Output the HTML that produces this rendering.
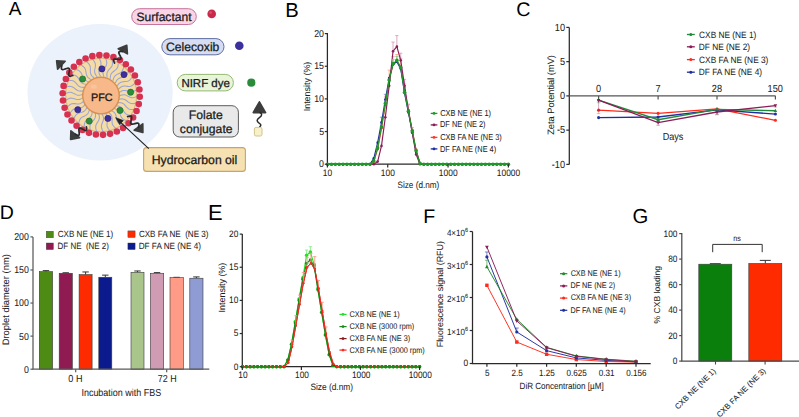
<!DOCTYPE html>
<html><head><meta charset="utf-8"><style>
html,body{margin:0;padding:0;background:#fff;}
svg{display:block;}
text{font-family:"Liberation Sans", sans-serif;text-rendering:geometricPrecision;}
.t{stroke:#1c1c1c;stroke-width:0.05px;}
</style></head><body>
<svg width="799" height="417" viewBox="0 0 799 417" font-family="Liberation Sans, sans-serif">
<rect width="799" height="417" fill="#fff"/>
<ellipse cx="100.1" cy="92.2" rx="72.6" ry="68.3" fill="#ebf2fb"/>
<ellipse cx="101.2" cy="95.0" rx="36.2" ry="37.4" fill="#f5dca6"/>
<ellipse cx="101.2" cy="95.0" rx="35.6" ry="36.8" fill="none" stroke="#d8bd88" stroke-width="1.3"/>
<path d="M106.01,59.34 L106.39,60.62 L106.66,61.90 L106.74,63.15 L106.58,64.35 L106.17,65.51 L105.58,66.64 L104.87,67.76 L104.16,68.89 L103.56,70.05 L103.16,71.23 L103.00,72.43 L103.08,73.66 L103.35,74.91 L103.74,76.18 M112.31,60.85 L112.46,62.19 L112.50,63.49 L112.35,64.73 L111.98,65.89 L111.37,66.95 L110.58,67.95 L109.69,68.92 L108.79,69.89 L107.99,70.92 L107.38,72.00 L107.01,73.15 L106.87,74.38 L106.92,75.65 L107.06,76.98 M118.24,63.53 L118.14,64.87 L117.95,66.16 L117.58,67.35 L117.01,68.41 L116.22,69.34 L115.27,70.18 L114.22,70.96 L113.16,71.75 L112.19,72.61 L111.40,73.56 L110.82,74.62 L110.46,75.79 L110.28,77.06 L110.19,78.39 M123.59,67.28 L123.25,68.57 L122.83,69.81 L122.26,70.91 L121.50,71.85 L120.56,72.61 L119.47,73.25 L118.30,73.82 L117.12,74.40 L116.01,75.06 L115.06,75.85 L114.31,76.78 L113.75,77.87 L113.34,79.08 L113.01,80.37 M128.17,71.97 L127.61,73.18 L126.97,74.31 L126.21,75.29 L125.30,76.07 L124.24,76.64 L123.06,77.07 L121.80,77.41 L120.54,77.75 L119.33,78.19 L118.26,78.78 L117.35,79.56 L116.60,80.53 L115.99,81.64 L115.43,82.84 M131.84,77.44 L131.07,78.53 L130.24,79.52 L129.32,80.34 L128.28,80.93 L127.14,81.30 L125.90,81.49 L124.60,81.59 L123.30,81.69 L122.04,81.90 L120.87,82.28 L119.84,82.87 L118.93,83.68 L118.13,84.65 L117.37,85.73 M134.46,83.52 L133.51,84.44 L132.52,85.26 L131.46,85.89 L130.34,86.28 L129.15,86.42 L127.90,86.38 L126.61,86.23 L125.30,86.08 L124.03,86.05 L122.82,86.20 L121.69,86.59 L120.66,87.21 L119.69,88.02 L118.75,88.94 M135.95,89.98 L134.85,90.71 L133.73,91.33 L132.58,91.75 L131.41,91.92 L130.21,91.84 L128.99,91.56 L127.74,91.17 L126.49,90.78 L125.24,90.50 L124.02,90.43 L122.85,90.60 L121.72,91.01 L120.63,91.63 L119.54,92.35 M136.26,96.62 L135.04,97.13 L133.83,97.52 L132.63,97.72 L131.45,97.67 L130.28,97.36 L129.13,96.85 L127.98,96.24 L126.81,95.62 L125.64,95.11 L124.45,94.81 L123.27,94.75 L122.09,94.95 L120.90,95.35 L119.70,95.85 M135.37,103.20 L134.09,103.47 L132.82,103.63 L131.61,103.60 L130.45,103.32 L129.36,102.80 L128.32,102.09 L127.30,101.26 L126.27,100.44 L125.20,99.72 L124.09,99.19 L122.94,98.92 L121.74,98.89 L120.50,99.05 L119.23,99.33 M133.32,109.50 L132.01,109.53 L130.74,109.45 L129.55,109.18 L128.46,108.69 L127.49,107.98 L126.59,107.08 L125.73,106.08 L124.87,105.07 L123.95,104.16 L122.95,103.44 L121.87,102.95 L120.70,102.69 L119.45,102.62 L118.15,102.65 M130.17,115.31 L128.88,115.09 L127.65,114.77 L126.53,114.29 L125.55,113.60 L124.71,112.71 L124.00,111.66 L123.33,110.51 L122.66,109.36 L121.92,108.29 L121.07,107.39 L120.09,106.71 L118.99,106.24 L117.77,105.93 L116.49,105.72 M126.04,120.43 L124.81,119.96 L123.66,119.42 L122.64,118.73 L121.80,117.87 L121.14,116.84 L120.62,115.68 L120.18,114.42 L119.72,113.16 L119.19,111.97 L118.51,110.93 L117.67,110.07 L116.67,109.40 L115.53,108.87 L114.31,108.42 M121.07,124.68 L119.94,123.99 L118.90,123.24 L118.02,122.37 L117.35,121.37 L116.89,120.23 L116.59,118.98 L116.38,117.67 L116.16,116.34 L115.84,115.07 L115.36,113.92 L114.69,112.92 L113.83,112.07 L112.80,111.34 L111.68,110.66 M115.41,127.92 L114.43,127.03 L113.54,126.09 L112.84,125.07 L112.36,123.96 L112.10,122.76 L112.03,121.48 L112.06,120.14 L112.08,118.80 L112.00,117.49 L111.73,116.27 L111.25,115.16 L110.56,114.16 L109.68,113.25 L108.70,112.37 M109.28,130.03 L108.47,128.98 L107.76,127.89 L107.25,126.76 L106.98,125.57 L106.95,124.34 L107.10,123.07 L107.37,121.76 L107.63,120.44 L107.78,119.14 L107.75,117.89 L107.47,116.71 L106.96,115.60 L106.27,114.53 L105.46,113.49 M102.86,130.96 L102.26,129.77 L101.76,128.57 L101.46,127.36 L101.40,126.14 L101.59,124.93 L101.98,123.70 L102.47,122.47 L102.96,121.22 L103.35,119.97 L103.53,118.74 L103.48,117.52 L103.18,116.33 L102.68,115.16 L102.08,113.98 M96.39,130.66 L96.01,129.38 L95.74,128.10 L95.66,126.85 L95.82,125.65 L96.23,124.49 L96.82,123.36 L97.53,122.24 L98.24,121.11 L98.84,119.95 L99.24,118.77 L99.40,117.57 L99.32,116.34 L99.05,115.09 L98.66,113.82 M90.09,129.15 L89.94,127.81 L89.90,126.51 L90.05,125.27 L90.42,124.11 L91.03,123.05 L91.82,122.05 L92.71,121.08 L93.61,120.11 L94.41,119.08 L95.02,118.00 L95.39,116.85 L95.53,115.62 L95.48,114.35 L95.34,113.02 M84.16,126.47 L84.26,125.13 L84.45,123.84 L84.82,122.65 L85.39,121.59 L86.18,120.66 L87.13,119.82 L88.18,119.04 L89.24,118.25 L90.21,117.39 L91.00,116.44 L91.58,115.38 L91.94,114.21 L92.12,112.94 L92.21,111.61 M78.81,122.72 L79.15,121.43 L79.57,120.19 L80.14,119.09 L80.90,118.15 L81.84,117.39 L82.93,116.75 L84.10,116.18 L85.28,115.60 L86.39,114.94 L87.34,114.15 L88.09,113.22 L88.65,112.13 L89.06,110.92 L89.39,109.63 M74.23,118.03 L74.79,116.82 L75.43,115.69 L76.19,114.71 L77.10,113.93 L78.16,113.36 L79.34,112.93 L80.60,112.59 L81.86,112.25 L83.07,111.81 L84.14,111.22 L85.05,110.44 L85.80,109.47 L86.41,108.36 L86.97,107.16 M70.56,112.56 L71.33,111.47 L72.16,110.48 L73.08,109.66 L74.12,109.07 L75.26,108.70 L76.50,108.51 L77.80,108.41 L79.10,108.31 L80.36,108.10 L81.53,107.72 L82.56,107.13 L83.47,106.32 L84.27,105.35 L85.03,104.27 M67.94,106.48 L68.89,105.56 L69.88,104.74 L70.94,104.11 L72.06,103.72 L73.25,103.58 L74.50,103.62 L75.79,103.77 L77.10,103.92 L78.37,103.95 L79.58,103.80 L80.71,103.41 L81.74,102.79 L82.71,101.98 L83.65,101.06 M66.45,100.02 L67.55,99.29 L68.67,98.67 L69.82,98.25 L70.99,98.08 L72.19,98.16 L73.41,98.44 L74.66,98.83 L75.91,99.22 L77.16,99.50 L78.38,99.57 L79.55,99.40 L80.68,98.99 L81.77,98.37 L82.86,97.65 M66.14,93.38 L67.36,92.87 L68.57,92.48 L69.77,92.28 L70.95,92.33 L72.12,92.64 L73.27,93.15 L74.42,93.76 L75.59,94.38 L76.76,94.89 L77.95,95.19 L79.13,95.25 L80.31,95.05 L81.50,94.65 L82.70,94.15 M67.03,86.80 L68.31,86.53 L69.58,86.37 L70.79,86.40 L71.95,86.68 L73.04,87.20 L74.08,87.91 L75.10,88.74 L76.13,89.56 L77.20,90.28 L78.31,90.81 L79.46,91.08 L80.66,91.11 L81.90,90.95 L83.17,90.67 M69.08,80.50 L70.39,80.47 L71.66,80.55 L72.85,80.82 L73.94,81.31 L74.91,82.02 L75.81,82.92 L76.67,83.92 L77.53,84.93 L78.45,85.84 L79.45,86.56 L80.53,87.05 L81.70,87.31 L82.95,87.38 L84.25,87.35 M72.23,74.69 L73.52,74.91 L74.75,75.23 L75.87,75.71 L76.85,76.40 L77.69,77.29 L78.40,78.34 L79.07,79.49 L79.74,80.64 L80.48,81.71 L81.33,82.61 L82.31,83.29 L83.41,83.76 L84.63,84.07 L85.91,84.28 M76.36,69.57 L77.59,70.04 L78.74,70.58 L79.76,71.27 L80.60,72.13 L81.26,73.16 L81.78,74.32 L82.22,75.58 L82.68,76.84 L83.21,78.03 L83.89,79.07 L84.73,79.93 L85.73,80.60 L86.87,81.13 L88.09,81.58 M81.33,65.32 L82.46,66.01 L83.50,66.76 L84.38,67.63 L85.05,68.63 L85.51,69.77 L85.81,71.02 L86.02,72.33 L86.24,73.66 L86.56,74.93 L87.04,76.08 L87.71,77.08 L88.57,77.93 L89.60,78.66 L90.72,79.34 M86.99,62.08 L87.97,62.97 L88.86,63.91 L89.56,64.93 L90.04,66.04 L90.30,67.24 L90.37,68.52 L90.34,69.86 L90.32,71.20 L90.40,72.51 L90.67,73.73 L91.15,74.84 L91.84,75.84 L92.72,76.75 L93.70,77.63 M93.12,59.97 L93.93,61.02 L94.64,62.11 L95.15,63.24 L95.42,64.43 L95.45,65.66 L95.30,66.93 L95.03,68.24 L94.77,69.56 L94.62,70.86 L94.65,72.11 L94.93,73.29 L95.44,74.40 L96.13,75.47 L96.94,76.51 M99.54,59.04 L100.14,60.23 L100.64,61.43 L100.94,62.64 L101.00,63.86 L100.81,65.07 L100.42,66.30 L99.93,67.53 L99.44,68.78 L99.05,70.03 L98.87,71.26 L98.92,72.48 L99.22,73.67 L99.72,74.84 L100.32,76.02" fill="none" stroke="#9aa4d6" stroke-width="1.05" stroke-linecap="round" stroke-linejoin="round"/>
<circle cx="101.0" cy="95.6" r="18.3" fill="#f7b98a" stroke="#d98f4e" stroke-width="1.4"/>
<ellipse cx="93.8" cy="86.8" rx="3.0" ry="2.2" fill="#fbcaa6" opacity="0.6"/>
<circle cx="106.49" cy="55.48" r="3.3" fill="#d8314f"/>
<circle cx="113.42" cy="57.15" r="3.3" fill="#d8314f"/>
<circle cx="119.94" cy="60.12" r="3.3" fill="#d8314f"/>
<circle cx="125.82" cy="64.27" r="3.3" fill="#d8314f"/>
<circle cx="130.87" cy="69.47" r="3.3" fill="#d8314f"/>
<circle cx="134.90" cy="75.54" r="3.3" fill="#d8314f"/>
<circle cx="137.78" cy="82.27" r="3.3" fill="#d8314f"/>
<circle cx="139.42" cy="89.44" r="3.3" fill="#d8314f"/>
<circle cx="139.76" cy="96.79" r="3.3" fill="#d8314f"/>
<circle cx="138.79" cy="104.09" r="3.3" fill="#d8314f"/>
<circle cx="136.53" cy="111.07" r="3.3" fill="#d8314f"/>
<circle cx="133.07" cy="117.51" r="3.3" fill="#d8314f"/>
<circle cx="128.53" cy="123.18" r="3.3" fill="#d8314f"/>
<circle cx="123.05" cy="127.89" r="3.3" fill="#d8314f"/>
<circle cx="116.83" cy="131.48" r="3.3" fill="#d8314f"/>
<circle cx="110.08" cy="133.83" r="3.3" fill="#d8314f"/>
<circle cx="103.03" cy="134.86" r="3.3" fill="#d8314f"/>
<circle cx="95.91" cy="134.52" r="3.3" fill="#d8314f"/>
<circle cx="88.98" cy="132.85" r="3.3" fill="#d8314f"/>
<circle cx="82.46" cy="129.88" r="3.3" fill="#d8314f"/>
<circle cx="76.58" cy="125.73" r="3.3" fill="#d8314f"/>
<circle cx="71.53" cy="120.53" r="3.3" fill="#d8314f"/>
<circle cx="67.50" cy="114.46" r="3.3" fill="#d8314f"/>
<circle cx="64.62" cy="107.73" r="3.3" fill="#d8314f"/>
<circle cx="62.98" cy="100.56" r="3.3" fill="#d8314f"/>
<circle cx="62.64" cy="93.21" r="3.3" fill="#d8314f"/>
<circle cx="63.61" cy="85.91" r="3.3" fill="#d8314f"/>
<circle cx="65.87" cy="78.93" r="3.3" fill="#d8314f"/>
<circle cx="69.33" cy="72.49" r="3.3" fill="#d8314f"/>
<circle cx="73.87" cy="66.82" r="3.3" fill="#d8314f"/>
<circle cx="79.35" cy="62.11" r="3.3" fill="#d8314f"/>
<circle cx="85.57" cy="58.52" r="3.3" fill="#d8314f"/>
<circle cx="92.32" cy="56.17" r="3.3" fill="#d8314f"/>
<circle cx="99.37" cy="55.14" r="3.3" fill="#d8314f"/>
<circle cx="101.9" cy="68.9" r="3.1" fill="#3d2f9f" stroke="#2a2275" stroke-width="0.6"/>
<circle cx="124" cy="74.6" r="3.1" fill="#3d2f9f" stroke="#2a2275" stroke-width="0.6"/>
<circle cx="77.8" cy="109.7" r="3.1" fill="#3d2f9f" stroke="#2a2275" stroke-width="0.6"/>
<circle cx="107.9" cy="118.4" r="3.1" fill="#3d2f9f" stroke="#2a2275" stroke-width="0.6"/>
<circle cx="82.6" cy="79.0" r="3.1" fill="#2c8d3b" stroke="#1d6a2a" stroke-width="0.6"/>
<circle cx="130.6" cy="92.2" r="3.1" fill="#2c8d3b" stroke="#1d6a2a" stroke-width="0.6"/>
<circle cx="120" cy="110.4" r="3.1" fill="#2c8d3b" stroke="#1d6a2a" stroke-width="0.6"/>
<circle cx="89.2" cy="121.1" r="3.1" fill="#2c8d3b" stroke="#1d6a2a" stroke-width="0.6"/>
<path d="M56.60,60.80 L65.20,61.20 L57.60,69.20 Z" fill="#3d3d3d" stroke="#3d3d3d" stroke-width="1.6" stroke-linejoin="round"/>
<path d="M61.80,65.60 L61.55,66.81 L61.40,67.89 L61.45,68.76 L61.77,69.32 L62.37,69.57 L63.23,69.53 L64.30,69.26 L65.47,68.87 L66.64,68.47 L67.70,68.21 L68.56,68.16 L69.16,68.41 L69.48,68.98 L69.53,69.84 L69.39,70.92 L69.13,72.13 L68.88,73.34 L68.73,74.43 L68.79,75.29 L69.10,75.86 L69.70,76.11 L70.57,76.06 L71.63,75.79 L72.80,75.40" fill="none" stroke="#2a2a2a" stroke-width="1.7" stroke-linecap="round" stroke-linejoin="round"/>
<path d="M126.80,45.20 L118.20,48.80 L127.40,53.80 Z" fill="#3d3d3d" stroke="#3d3d3d" stroke-width="1.6" stroke-linejoin="round"/>
<path d="M122.60,51.60 L121.39,51.46 L120.31,51.41 L119.48,51.54 L118.97,51.89 L118.82,52.49 L118.98,53.31 L119.39,54.31 L119.93,55.40 L120.48,56.49 L120.89,57.49 L121.05,58.31 L120.89,58.91 L120.38,59.26 L119.55,59.39 L118.48,59.34 L117.27,59.20 L116.06,59.06 L114.98,59.01 L114.15,59.14 L113.64,59.49 L113.48,60.09 L113.65,60.91 L114.06,61.91 L114.60,63.00" fill="none" stroke="#2a2a2a" stroke-width="1.7" stroke-linecap="round" stroke-linejoin="round"/>
<path d="M70.60,139.40 L70.90,130.90 L79.60,137.60 Z" fill="#3d3d3d" stroke="#3d3d3d" stroke-width="1.6" stroke-linejoin="round"/>
<path d="M75.40,134.20 L76.46,134.78 L77.42,135.23 L78.22,135.42 L78.80,135.29 L79.14,134.80 L79.26,133.99 L79.21,132.93 L79.07,131.73 L78.93,130.54 L78.88,129.47 L79.00,128.66 L79.34,128.18 L79.91,128.05 L80.71,128.24 L81.68,128.69 L82.73,129.27 L83.79,129.85 L84.76,130.29 L85.55,130.49 L86.13,130.36 L86.47,129.87 L86.59,129.06 L86.54,128.00 L86.40,126.80" fill="none" stroke="#2a2a2a" stroke-width="1.7" stroke-linecap="round" stroke-linejoin="round"/>
<path d="M142.90,132.60 L134.20,130.20 L142.80,123.80 Z" fill="#3d3d3d" stroke="#3d3d3d" stroke-width="1.6" stroke-linejoin="round"/>
<path d="M138.40,127.20 L138.70,125.99 L138.89,124.90 L138.86,124.03 L138.56,123.44 L137.96,123.15 L137.09,123.14 L136.00,123.34 L134.80,123.67 L133.60,123.99 L132.51,124.20 L131.64,124.19 L131.04,123.90 L130.74,123.30 L130.71,122.43 L130.90,121.34 L131.20,120.13 L131.50,118.93 L131.69,117.84 L131.66,116.96 L131.36,116.37 L130.76,116.08 L129.89,116.07 L128.80,116.28 L127.60,116.60" fill="none" stroke="#2a2a2a" stroke-width="1.7" stroke-linecap="round" stroke-linejoin="round"/>
<rect x="131.7" y="8.7" width="64.60000000000002" height="15.8" rx="7.9" fill="#f8d4e6" stroke="#c6749c" stroke-width="1.0"/>
<circle cx="211.7" cy="13.9" r="4.3" fill="#c9294b"/>
<circle cx="210.6" cy="12.6" r="1.3" fill="#e86a80" opacity="0.6"/>
<rect x="161.8" y="38.6" width="62.19999999999999" height="16.199999999999996" rx="8.1" fill="#d6ddf2" stroke="#5f6fa2" stroke-width="1.0"/>
<circle cx="239.3" cy="45.8" r="4.3" fill="#3b309c"/>
<rect x="177.2" y="74.4" width="56.20000000000002" height="16.5" rx="8.2" fill="#e8f5d9" stroke="#94b874" stroke-width="1.0"/>
<circle cx="251.3" cy="82.7" r="4.1" fill="#2a8b3a"/>
<rect x="173.2" y="105.7" width="65.20000000000002" height="31.299999999999997" rx="6.5" fill="#e9e9e9" stroke="#5c5c5c" stroke-width="1.0"/>
<path d="M259.4,101.8 L265.6,112.6 L253.2,112.6 Z" fill="#3d3d3d" stroke="#3d3d3d" stroke-width="1.6" stroke-linejoin="round"/>
<path d="M259.4,112 C262.4,113.6 262.4,115.6 259.4,117.6 C256.4,119.6 256.4,121.6 259.4,123.4 C261.6,124.6 261,126 259.4,127" fill="none" stroke="#2a2a2a" stroke-width="1.5"/>
<rect x="254.4" y="127.4" width="7.6" height="8.6" rx="1.6" fill="#f8f0c8" stroke="#cdbd86" stroke-width="0.9"/>
<rect x="143.6" y="147.6" width="101.80000000000001" height="23.80000000000001" rx="3" fill="#f6e1b3" stroke="#c9a466" stroke-width="1.1"/>
<path d="M148.8,148.6 L119.5,121.4" stroke="#222" stroke-width="1.15"/>
<path d="M115.6,117.6 L123.4,120.6 L119.6,124.6 Z" fill="#222" stroke="#222" stroke-width="0.6" stroke-linejoin="round"/>
<path d="M327.4,33.0 L327.4,164.2 L508.39,164.2" fill="none" stroke="#2a2a2a" stroke-width="1.25" />
<path d="M385.34,104.78 L385.34,96.94 M383.74,96.94 L386.94,96.94" fill="none" stroke="#ffa890" stroke-width="0.9" />
<path d="M389.18,80.62 L389.18,70.17 M387.58,70.17 L390.78,70.17" fill="none" stroke="#ffa890" stroke-width="0.9" />
<path d="M393.03,64.29 L393.03,56.45 M391.43,56.45 L394.63,56.45" fill="none" stroke="#ffa890" stroke-width="0.9" />
<path d="M396.88,61.03 L396.88,54.50 M395.28,54.50 L398.48,54.50" fill="none" stroke="#ffa890" stroke-width="0.9" />
<path d="M400.72,66.90 L400.72,58.41 M399.12,58.41 L402.32,58.41" fill="none" stroke="#ffa890" stroke-width="0.9" />
<path d="M404.57,90.41 L404.57,83.88 M402.97,83.88 L406.17,83.88" fill="none" stroke="#ffa890" stroke-width="0.9" />
<path d="M408.41,110.00 L408.41,104.78 M406.81,104.78 L410.01,104.78" fill="none" stroke="#ffa890" stroke-width="0.9" />
<path d="M327.66,164.20 L331.50,164.20 L335.35,164.20 L339.20,164.20 L343.04,164.20 L346.89,164.20 L350.73,164.20 L354.58,164.20 L358.42,164.20 L362.27,164.20 L366.11,164.20 L369.96,164.20 L373.80,161.59 L377.65,149.18 L381.49,128.28 L385.34,104.78 L389.18,80.62 L393.03,64.29 L396.88,61.03 L400.72,66.90 L404.57,90.41 L408.41,110.00 L412.26,130.24 L416.10,149.83 L419.95,162.89 L423.79,164.20 L427.64,164.20 L431.48,164.20 L435.33,164.20 L439.17,164.20 L443.02,164.20 L446.86,164.20 L450.71,164.20 L454.56,164.20 L458.40,164.20 L462.25,164.20 L466.09,164.20 L469.94,164.20 L473.78,164.20 L477.63,164.20 L481.47,164.20 L485.32,164.20 L489.16,164.20 L493.01,164.20 L496.85,164.20 L500.70,164.20 L504.54,164.20 L508.39,164.20" fill="none" stroke="#ff3a2a" stroke-width="1.15" stroke-linejoin="round"/>
<g fill="#ff3a2a"><circle cx="327.66" cy="164.20" r="1.3"/><circle cx="331.50" cy="164.20" r="1.3"/><circle cx="335.35" cy="164.20" r="1.3"/><circle cx="339.20" cy="164.20" r="1.3"/><circle cx="343.04" cy="164.20" r="1.3"/><circle cx="346.89" cy="164.20" r="1.3"/><circle cx="350.73" cy="164.20" r="1.3"/><circle cx="354.58" cy="164.20" r="1.3"/><circle cx="358.42" cy="164.20" r="1.3"/><circle cx="362.27" cy="164.20" r="1.3"/><circle cx="366.11" cy="164.20" r="1.3"/><circle cx="369.96" cy="164.20" r="1.3"/><circle cx="373.80" cy="161.59" r="1.3"/><circle cx="377.65" cy="149.18" r="1.3"/><circle cx="381.49" cy="128.28" r="1.3"/><circle cx="385.34" cy="104.78" r="1.3"/><circle cx="389.18" cy="80.62" r="1.3"/><circle cx="393.03" cy="64.29" r="1.3"/><circle cx="396.88" cy="61.03" r="1.3"/><circle cx="400.72" cy="66.90" r="1.3"/><circle cx="404.57" cy="90.41" r="1.3"/><circle cx="408.41" cy="110.00" r="1.3"/><circle cx="412.26" cy="130.24" r="1.3"/><circle cx="416.10" cy="149.83" r="1.3"/><circle cx="419.95" cy="162.89" r="1.3"/><circle cx="423.79" cy="164.20" r="1.3"/><circle cx="427.64" cy="164.20" r="1.3"/><circle cx="431.48" cy="164.20" r="1.3"/><circle cx="435.33" cy="164.20" r="1.3"/><circle cx="439.17" cy="164.20" r="1.3"/><circle cx="443.02" cy="164.20" r="1.3"/><circle cx="446.86" cy="164.20" r="1.3"/><circle cx="450.71" cy="164.20" r="1.3"/><circle cx="454.56" cy="164.20" r="1.3"/><circle cx="458.40" cy="164.20" r="1.3"/><circle cx="462.25" cy="164.20" r="1.3"/><circle cx="466.09" cy="164.20" r="1.3"/><circle cx="469.94" cy="164.20" r="1.3"/><circle cx="473.78" cy="164.20" r="1.3"/><circle cx="477.63" cy="164.20" r="1.3"/><circle cx="481.47" cy="164.20" r="1.3"/><circle cx="485.32" cy="164.20" r="1.3"/><circle cx="489.16" cy="164.20" r="1.3"/><circle cx="493.01" cy="164.20" r="1.3"/><circle cx="496.85" cy="164.20" r="1.3"/><circle cx="500.70" cy="164.20" r="1.3"/><circle cx="504.54" cy="164.20" r="1.3"/><circle cx="508.39" cy="164.20" r="1.3"/></g>
<path d="M381.49,122.41 L381.49,117.18 M379.89,117.18 L383.09,117.18" fill="none" stroke="#8f9ad8" stroke-width="0.9" />
<path d="M385.34,99.55 L385.34,94.33 M383.74,94.33 L386.94,94.33" fill="none" stroke="#8f9ad8" stroke-width="0.9" />
<path d="M404.57,93.02 L404.57,87.80 M402.97,87.80 L406.17,87.80" fill="none" stroke="#8f9ad8" stroke-width="0.9" />
<path d="M327.66,164.20 L331.50,164.20 L335.35,164.20 L339.20,164.20 L343.04,164.20 L346.89,164.20 L350.73,164.20 L354.58,164.20 L358.42,164.20 L362.27,164.20 L366.11,164.20 L369.96,164.20 L373.80,158.32 L377.65,142.65 L381.49,122.41 L385.34,99.55 L389.18,78.00 L393.03,64.29 L396.88,61.68 L400.72,68.86 L404.57,93.02 L408.41,112.61 L412.26,132.20 L416.10,151.79 L419.95,163.55 L423.79,164.20 L427.64,164.20 L431.48,164.20 L435.33,164.20 L439.17,164.20 L443.02,164.20 L446.86,164.20 L450.71,164.20 L454.56,164.20 L458.40,164.20 L462.25,164.20 L466.09,164.20 L469.94,164.20 L473.78,164.20 L477.63,164.20 L481.47,164.20 L485.32,164.20 L489.16,164.20 L493.01,164.20 L496.85,164.20 L500.70,164.20 L504.54,164.20 L508.39,164.20" fill="none" stroke="#1f2f9f" stroke-width="1.15" stroke-linejoin="round"/>
<g fill="#1f2f9f"><circle cx="327.66" cy="164.20" r="1.3"/><circle cx="331.50" cy="164.20" r="1.3"/><circle cx="335.35" cy="164.20" r="1.3"/><circle cx="339.20" cy="164.20" r="1.3"/><circle cx="343.04" cy="164.20" r="1.3"/><circle cx="346.89" cy="164.20" r="1.3"/><circle cx="350.73" cy="164.20" r="1.3"/><circle cx="354.58" cy="164.20" r="1.3"/><circle cx="358.42" cy="164.20" r="1.3"/><circle cx="362.27" cy="164.20" r="1.3"/><circle cx="366.11" cy="164.20" r="1.3"/><circle cx="369.96" cy="164.20" r="1.3"/><circle cx="373.80" cy="158.32" r="1.3"/><circle cx="377.65" cy="142.65" r="1.3"/><circle cx="381.49" cy="122.41" r="1.3"/><circle cx="385.34" cy="99.55" r="1.3"/><circle cx="389.18" cy="78.00" r="1.3"/><circle cx="393.03" cy="64.29" r="1.3"/><circle cx="396.88" cy="61.68" r="1.3"/><circle cx="400.72" cy="68.86" r="1.3"/><circle cx="404.57" cy="93.02" r="1.3"/><circle cx="408.41" cy="112.61" r="1.3"/><circle cx="412.26" cy="132.20" r="1.3"/><circle cx="416.10" cy="151.79" r="1.3"/><circle cx="419.95" cy="163.55" r="1.3"/><circle cx="423.79" cy="164.20" r="1.3"/><circle cx="427.64" cy="164.20" r="1.3"/><circle cx="431.48" cy="164.20" r="1.3"/><circle cx="435.33" cy="164.20" r="1.3"/><circle cx="439.17" cy="164.20" r="1.3"/><circle cx="443.02" cy="164.20" r="1.3"/><circle cx="446.86" cy="164.20" r="1.3"/><circle cx="450.71" cy="164.20" r="1.3"/><circle cx="454.56" cy="164.20" r="1.3"/><circle cx="458.40" cy="164.20" r="1.3"/><circle cx="462.25" cy="164.20" r="1.3"/><circle cx="466.09" cy="164.20" r="1.3"/><circle cx="469.94" cy="164.20" r="1.3"/><circle cx="473.78" cy="164.20" r="1.3"/><circle cx="477.63" cy="164.20" r="1.3"/><circle cx="481.47" cy="164.20" r="1.3"/><circle cx="485.32" cy="164.20" r="1.3"/><circle cx="489.16" cy="164.20" r="1.3"/><circle cx="493.01" cy="164.20" r="1.3"/><circle cx="496.85" cy="164.20" r="1.3"/><circle cx="500.70" cy="164.20" r="1.3"/><circle cx="504.54" cy="164.20" r="1.3"/><circle cx="508.39" cy="164.20" r="1.3"/></g>
<path d="M389.18,85.84 L389.18,79.31 M387.58,79.31 L390.78,79.31" fill="none" stroke="#d9a0bd" stroke-width="0.9" />
<path d="M393.03,51.23 L393.03,42.09 M391.43,42.09 L394.63,42.09" fill="none" stroke="#d9a0bd" stroke-width="0.9" />
<path d="M396.88,46.66 L396.88,35.56 M395.28,35.56 L398.48,35.56" fill="none" stroke="#d9a0bd" stroke-width="0.9" />
<path d="M400.72,60.37 L400.72,53.19 M399.12,53.19 L402.32,53.19" fill="none" stroke="#d9a0bd" stroke-width="0.9" />
<path d="M404.57,85.84 L404.57,79.31 M402.97,79.31 L406.17,79.31" fill="none" stroke="#d9a0bd" stroke-width="0.9" />
<path d="M408.41,110.65 L408.41,104.12 M406.81,104.12 L410.01,104.12" fill="none" stroke="#d9a0bd" stroke-width="0.9" />
<path d="M412.26,132.86 L412.26,127.63 M410.66,127.63 L413.86,127.63" fill="none" stroke="#d9a0bd" stroke-width="0.9" />
<path d="M327.66,164.20 L331.50,164.20 L335.35,164.20 L339.20,164.20 L343.04,164.20 L346.89,164.20 L350.73,164.20 L354.58,164.20 L358.42,164.20 L362.27,164.20 L366.11,164.20 L369.96,164.20 L373.80,164.20 L377.65,161.59 L381.49,145.92 L385.34,117.18 L389.18,85.84 L393.03,51.23 L396.88,46.66 L400.72,60.37 L404.57,85.84 L408.41,110.65 L412.26,132.86 L416.10,154.41 L419.95,164.20 L423.79,164.20 L427.64,164.20 L431.48,164.20 L435.33,164.20 L439.17,164.20 L443.02,164.20 L446.86,164.20 L450.71,164.20 L454.56,164.20 L458.40,164.20 L462.25,164.20 L466.09,164.20 L469.94,164.20 L473.78,164.20 L477.63,164.20 L481.47,164.20 L485.32,164.20 L489.16,164.20 L493.01,164.20 L496.85,164.20 L500.70,164.20 L504.54,164.20 L508.39,164.20" fill="none" stroke="#8c1c58" stroke-width="1.15" stroke-linejoin="round"/>
<g fill="#8c1c58"><circle cx="327.66" cy="164.20" r="1.3"/><circle cx="331.50" cy="164.20" r="1.3"/><circle cx="335.35" cy="164.20" r="1.3"/><circle cx="339.20" cy="164.20" r="1.3"/><circle cx="343.04" cy="164.20" r="1.3"/><circle cx="346.89" cy="164.20" r="1.3"/><circle cx="350.73" cy="164.20" r="1.3"/><circle cx="354.58" cy="164.20" r="1.3"/><circle cx="358.42" cy="164.20" r="1.3"/><circle cx="362.27" cy="164.20" r="1.3"/><circle cx="366.11" cy="164.20" r="1.3"/><circle cx="369.96" cy="164.20" r="1.3"/><circle cx="373.80" cy="164.20" r="1.3"/><circle cx="377.65" cy="161.59" r="1.3"/><circle cx="381.49" cy="145.92" r="1.3"/><circle cx="385.34" cy="117.18" r="1.3"/><circle cx="389.18" cy="85.84" r="1.3"/><circle cx="393.03" cy="51.23" r="1.3"/><circle cx="396.88" cy="46.66" r="1.3"/><circle cx="400.72" cy="60.37" r="1.3"/><circle cx="404.57" cy="85.84" r="1.3"/><circle cx="408.41" cy="110.65" r="1.3"/><circle cx="412.26" cy="132.86" r="1.3"/><circle cx="416.10" cy="154.41" r="1.3"/><circle cx="419.95" cy="164.20" r="1.3"/><circle cx="423.79" cy="164.20" r="1.3"/><circle cx="427.64" cy="164.20" r="1.3"/><circle cx="431.48" cy="164.20" r="1.3"/><circle cx="435.33" cy="164.20" r="1.3"/><circle cx="439.17" cy="164.20" r="1.3"/><circle cx="443.02" cy="164.20" r="1.3"/><circle cx="446.86" cy="164.20" r="1.3"/><circle cx="450.71" cy="164.20" r="1.3"/><circle cx="454.56" cy="164.20" r="1.3"/><circle cx="458.40" cy="164.20" r="1.3"/><circle cx="462.25" cy="164.20" r="1.3"/><circle cx="466.09" cy="164.20" r="1.3"/><circle cx="469.94" cy="164.20" r="1.3"/><circle cx="473.78" cy="164.20" r="1.3"/><circle cx="477.63" cy="164.20" r="1.3"/><circle cx="481.47" cy="164.20" r="1.3"/><circle cx="485.32" cy="164.20" r="1.3"/><circle cx="489.16" cy="164.20" r="1.3"/><circle cx="493.01" cy="164.20" r="1.3"/><circle cx="496.85" cy="164.20" r="1.3"/><circle cx="500.70" cy="164.20" r="1.3"/><circle cx="504.54" cy="164.20" r="1.3"/><circle cx="508.39" cy="164.20" r="1.3"/></g>
<path d="M393.03,63.64 L393.03,59.72 M391.43,59.72 L394.63,59.72" fill="none" stroke="#88cc88" stroke-width="0.9" />
<path d="M396.88,60.37 L396.88,56.45 M395.28,56.45 L398.48,56.45" fill="none" stroke="#88cc88" stroke-width="0.9" />
<path d="M327.66,164.20 L331.50,164.20 L335.35,164.20 L339.20,164.20 L343.04,164.20 L346.89,164.20 L350.73,164.20 L354.58,164.20 L358.42,164.20 L362.27,164.20 L366.11,164.20 L369.96,164.20 L373.80,160.94 L377.65,147.88 L381.49,126.98 L385.34,103.47 L389.18,79.96 L393.03,63.64 L396.88,60.37 L400.72,67.56 L404.57,92.37 L408.41,111.31 L412.26,130.90 L416.10,150.49 L419.95,163.55 L423.79,164.20 L427.64,164.20 L431.48,164.20 L435.33,164.20 L439.17,164.20 L443.02,164.20 L446.86,164.20 L450.71,164.20 L454.56,164.20 L458.40,164.20 L462.25,164.20 L466.09,164.20 L469.94,164.20 L473.78,164.20 L477.63,164.20 L481.47,164.20 L485.32,164.20 L489.16,164.20 L493.01,164.20 L496.85,164.20 L500.70,164.20 L504.54,164.20 L508.39,164.20" fill="none" stroke="#1f9a2a" stroke-width="1.15" stroke-linejoin="round"/>
<g fill="#1f9a2a"><circle cx="327.66" cy="164.20" r="1.8"/><circle cx="331.50" cy="164.20" r="1.8"/><circle cx="335.35" cy="164.20" r="1.8"/><circle cx="339.20" cy="164.20" r="1.8"/><circle cx="343.04" cy="164.20" r="1.8"/><circle cx="346.89" cy="164.20" r="1.8"/><circle cx="350.73" cy="164.20" r="1.8"/><circle cx="354.58" cy="164.20" r="1.8"/><circle cx="358.42" cy="164.20" r="1.8"/><circle cx="362.27" cy="164.20" r="1.8"/><circle cx="366.11" cy="164.20" r="1.8"/><circle cx="369.96" cy="164.20" r="1.8"/><circle cx="373.80" cy="160.94" r="1.8"/><circle cx="377.65" cy="147.88" r="1.8"/><circle cx="381.49" cy="126.98" r="1.8"/><circle cx="385.34" cy="103.47" r="1.8"/><circle cx="389.18" cy="79.96" r="1.8"/><circle cx="393.03" cy="63.64" r="1.8"/><circle cx="396.88" cy="60.37" r="1.8"/><circle cx="400.72" cy="67.56" r="1.8"/><circle cx="404.57" cy="92.37" r="1.8"/><circle cx="408.41" cy="111.31" r="1.8"/><circle cx="412.26" cy="130.90" r="1.8"/><circle cx="416.10" cy="150.49" r="1.8"/><circle cx="419.95" cy="163.55" r="1.8"/><circle cx="423.79" cy="164.20" r="1.8"/><circle cx="427.64" cy="164.20" r="1.8"/><circle cx="431.48" cy="164.20" r="1.8"/><circle cx="435.33" cy="164.20" r="1.8"/><circle cx="439.17" cy="164.20" r="1.8"/><circle cx="443.02" cy="164.20" r="1.8"/><circle cx="446.86" cy="164.20" r="1.8"/><circle cx="450.71" cy="164.20" r="1.8"/><circle cx="454.56" cy="164.20" r="1.8"/><circle cx="458.40" cy="164.20" r="1.8"/><circle cx="462.25" cy="164.20" r="1.8"/><circle cx="466.09" cy="164.20" r="1.8"/><circle cx="469.94" cy="164.20" r="1.8"/><circle cx="473.78" cy="164.20" r="1.8"/><circle cx="477.63" cy="164.20" r="1.8"/><circle cx="481.47" cy="164.20" r="1.8"/><circle cx="485.32" cy="164.20" r="1.8"/><circle cx="489.16" cy="164.20" r="1.8"/><circle cx="493.01" cy="164.20" r="1.8"/><circle cx="496.85" cy="164.20" r="1.8"/><circle cx="500.70" cy="164.20" r="1.8"/><circle cx="504.54" cy="164.20" r="1.8"/><circle cx="508.39" cy="164.20" r="1.8"/></g>
<path d="M324.79999999999995,164.20 L327.4,164.20" fill="none" stroke="#2a2a2a" stroke-width="1.2" />
<path d="M324.79999999999995,131.55 L327.4,131.55" fill="none" stroke="#2a2a2a" stroke-width="1.2" />
<path d="M324.79999999999995,98.90 L327.4,98.90" fill="none" stroke="#2a2a2a" stroke-width="1.2" />
<path d="M324.79999999999995,66.25 L327.4,66.25" fill="none" stroke="#2a2a2a" stroke-width="1.2" />
<path d="M324.79999999999995,33.60 L327.4,33.60" fill="none" stroke="#2a2a2a" stroke-width="1.2" />
<path d="M327.40,164.2 L327.40,167.39999999999998" fill="none" stroke="#2a2a2a" stroke-width="1.2" />
<path d="M387.73,164.2 L387.73,167.39999999999998" fill="none" stroke="#2a2a2a" stroke-width="1.2" />
<path d="M448.06,164.2 L448.06,167.39999999999998" fill="none" stroke="#2a2a2a" stroke-width="1.2" />
<path d="M508.39,164.2 L508.39,167.39999999999998" fill="none" stroke="#2a2a2a" stroke-width="1.2" />
<path d="M430.7,113.4 L437.4,113.4" fill="none" stroke="#1f9a2a" stroke-width="1.3" />
<circle cx="434" cy="113.4" r="1.4" fill="#1f9a2a"/>
<path d="M430.7,124.9 L437.4,124.9" fill="none" stroke="#8c1c58" stroke-width="1.3" />
<circle cx="434" cy="124.9" r="1.4" fill="#8c1c58"/>
<path d="M430.7,137.4 L437.4,137.4" fill="none" stroke="#ff3a2a" stroke-width="1.3" />
<circle cx="434" cy="137.4" r="1.4" fill="#ff3a2a"/>
<path d="M430.7,148.9 L437.4,148.9" fill="none" stroke="#1f2f9f" stroke-width="1.3" />
<circle cx="434" cy="148.9" r="1.4" fill="#1f2f9f"/>
<path d="M569.3,27.40 L569.3,164.40" fill="none" stroke="#2a2a2a" stroke-width="1.25" />
<path d="M566.3,27.40 L569.3,27.40" fill="none" stroke="#2a2a2a" stroke-width="1.2" />
<path d="M566.3,61.65 L569.3,61.65" fill="none" stroke="#2a2a2a" stroke-width="1.2" />
<path d="M566.3,95.90 L569.3,95.90" fill="none" stroke="#2a2a2a" stroke-width="1.2" />
<path d="M566.3,130.15 L569.3,130.15" fill="none" stroke="#2a2a2a" stroke-width="1.2" />
<path d="M566.3,164.40 L569.3,164.40" fill="none" stroke="#2a2a2a" stroke-width="1.2" />
<path d="M569.3,95.9 L775.6,95.9" fill="none" stroke="#555" stroke-width="1.25" />
<path d="M598.6,95.9 L598.6,99.5" fill="none" stroke="#555" stroke-width="1.2" />
<path d="M658.1,95.9 L658.1,99.5" fill="none" stroke="#555" stroke-width="1.2" />
<path d="M717.0,95.9 L717.0,99.5" fill="none" stroke="#555" stroke-width="1.2" />
<path d="M775.4,95.9 L775.4,99.5" fill="none" stroke="#555" stroke-width="1.2" />
<path d="M598.60,110.15 L658.10,113.37 L717.00,108.92 L775.40,120.29" fill="none" stroke="#ff2a1a" stroke-width="1.3" />
<path d="M598.6,110.15 L598.6,113.57 M596.8000000000001,113.57 L600.4,113.57" fill="none" stroke="#ff2a1a" stroke-width="0.8" opacity="0.45"/>
<circle cx="598.60" cy="110.15" r="1.53" fill="#ff2a1a"/>
<circle cx="658.10" cy="113.37" r="1.53" fill="#ff2a1a"/>
<circle cx="717.00" cy="108.92" r="1.53" fill="#ff2a1a"/>
<circle cx="775.40" cy="120.29" r="1.53" fill="#ff2a1a"/>
<path d="M598.60,117.61 L658.10,117.00 L717.00,109.94 L775.40,114.05" fill="none" stroke="#1f2f9f" stroke-width="1.3" />
<circle cx="598.60" cy="117.61" r="1.53" fill="#1f2f9f"/>
<path d="M658.1,117.00 L658.1,119.05 M656.3000000000001,119.05 L659.9,119.05" fill="none" stroke="#1f2f9f" stroke-width="0.8" opacity="0.45"/>
<circle cx="658.10" cy="117.00" r="1.53" fill="#1f2f9f"/>
<circle cx="717.00" cy="109.94" r="1.53" fill="#1f2f9f"/>
<circle cx="775.40" cy="114.05" r="1.53" fill="#1f2f9f"/>
<path d="M598.60,100.01 L658.10,119.74 L717.00,109.33 L775.40,110.76" fill="none" stroke="#1e8c3a" stroke-width="1.3" />
<path d="M598.6,100.01 L598.6,102.75 M596.8000000000001,102.75 L600.4,102.75" fill="none" stroke="#1e8c3a" stroke-width="0.8" opacity="0.45"/>
<path d="M598.60,98.03 L600.40,101.27 L596.80,101.27 Z" fill="#1e8c3a"/>
<path d="M658.1,119.74 L658.1,121.79 M656.3000000000001,121.79 L659.9,121.79" fill="none" stroke="#1e8c3a" stroke-width="0.8" opacity="0.45"/>
<path d="M658.10,117.76 L659.90,121.00 L656.30,121.00 Z" fill="#1e8c3a"/>
<path d="M717.0,109.33 L717.0,114.12 M715.2,114.12 L718.8,114.12" fill="none" stroke="#1e8c3a" stroke-width="0.8" opacity="0.45"/>
<path d="M717.00,107.35 L718.80,110.59 L715.20,110.59 Z" fill="#1e8c3a"/>
<path d="M775.40,108.78 L777.20,112.02 L773.60,112.02 Z" fill="#1e8c3a"/>
<path d="M598.60,100.15 L658.10,122.55 L717.00,112.00 L775.40,105.63" fill="none" stroke="#8c1c58" stroke-width="1.3" />
<path d="M598.6,100.15 L598.6,110.42 M596.8000000000001,110.42 L600.4,110.42" fill="none" stroke="#8c1c58" stroke-width="0.8" opacity="0.45"/>
<path d="M598.60,102.13 L600.40,98.89 L596.80,98.89 Z" fill="#8c1c58"/>
<path d="M658.1,122.55 L658.1,125.29 M656.3000000000001,125.29 L659.9,125.29" fill="none" stroke="#8c1c58" stroke-width="0.8" opacity="0.45"/>
<path d="M658.10,124.53 L659.90,121.29 L656.30,121.29 Z" fill="#8c1c58"/>
<path d="M717.0,112.00 L717.0,114.74 M715.2,114.74 L718.8,114.74" fill="none" stroke="#8c1c58" stroke-width="0.8" opacity="0.45"/>
<path d="M717.00,113.98 L718.80,110.74 L715.20,110.74 Z" fill="#8c1c58"/>
<path d="M775.4,105.63 L775.4,107.00 M773.6,107.00 L777.1999999999999,107.00" fill="none" stroke="#8c1c58" stroke-width="0.8" opacity="0.45"/>
<path d="M775.40,107.61 L777.20,104.37 L773.60,104.37 Z" fill="#8c1c58"/>
<path d="M686.9,34.5 L694.8,34.5" fill="none" stroke="#1e8c3a" stroke-width="1.3" />
<circle cx="690.8" cy="34.5" r="1.5" fill="#1e8c3a"/>
<path d="M686.9,46.8 L694.8,46.8" fill="none" stroke="#8c1c58" stroke-width="1.3" />
<circle cx="690.8" cy="46.8" r="1.5" fill="#8c1c58"/>
<path d="M686.9,59.6 L694.8,59.6" fill="none" stroke="#ff2a1a" stroke-width="1.3" />
<circle cx="690.8" cy="59.6" r="1.5" fill="#ff2a1a"/>
<path d="M686.9,72.2 L694.8,72.2" fill="none" stroke="#1f2f9f" stroke-width="1.3" />
<circle cx="690.8" cy="72.2" r="1.5" fill="#1f2f9f"/>
<path d="M45.95,271.63 L45.95,270.64 M42.75,270.64 L49.15,270.64" fill="none" stroke="#333" stroke-width="1.0" />
<rect x="39.3" y="271.63" width="13.30" height="97.57" fill="#4d8b14" stroke="#3a3a3a" stroke-width="0.6"/>
<path d="M65.75,273.28 L65.75,272.75 M62.55,272.75 L68.95,272.75" fill="none" stroke="#333" stroke-width="1.0" />
<rect x="59.2" y="273.28" width="13.10" height="95.92" fill="#8f1b52" stroke="#3a3a3a" stroke-width="0.6"/>
<path d="M85.60,274.61 L85.60,271.96 M82.40,271.96 L88.80,271.96" fill="none" stroke="#333" stroke-width="1.0" />
<rect x="79.1" y="274.61" width="13.00" height="94.59" fill="#ff2b00" stroke="#3a3a3a" stroke-width="0.6"/>
<path d="M105.30,277.25 L105.30,275.13 M102.10,275.13 L108.50,275.13" fill="none" stroke="#333" stroke-width="1.0" />
<rect x="98.8" y="277.25" width="13.00" height="91.95" fill="#0b1b8d" stroke="#3a3a3a" stroke-width="0.6"/>
<path d="M137.50,272.29 L137.50,270.97 M134.30,270.97 L140.70,270.97" fill="none" stroke="#333" stroke-width="1.0" />
<rect x="131.0" y="272.29" width="13.00" height="96.91" fill="#a9c58b" stroke="#3a3a3a" stroke-width="0.6"/>
<path d="M157.05,273.28 L157.05,272.62 M153.85,272.62 L160.25,272.62" fill="none" stroke="#333" stroke-width="1.0" />
<rect x="150.4" y="273.28" width="13.30" height="95.92" fill="#d09cb3" stroke="#3a3a3a" stroke-width="0.6"/>
<path d="M176.65,277.58 L176.65,277.32 M173.45,277.32 L179.85,277.32" fill="none" stroke="#333" stroke-width="1.0" />
<rect x="170.0" y="277.58" width="13.30" height="91.62" fill="#ff9b86" stroke="#3a3a3a" stroke-width="0.6"/>
<path d="M196.40,278.24 L196.40,276.92 M193.20,276.92 L199.60,276.92" fill="none" stroke="#333" stroke-width="1.0" />
<rect x="189.8" y="278.24" width="13.20" height="90.96" fill="#8f9bd3" stroke="#3a3a3a" stroke-width="0.6"/>
<path d="M33.0,236.9 L33.0,369.2 L209.3,369.2" fill="none" stroke="#5a5a5a" stroke-width="1.25" />
<path d="M30.4,236.90 L33.0,236.90" fill="none" stroke="#5a5a5a" stroke-width="1.2" />
<path d="M30.4,269.98 L33.0,269.98" fill="none" stroke="#5a5a5a" stroke-width="1.2" />
<path d="M30.4,303.05 L33.0,303.05" fill="none" stroke="#5a5a5a" stroke-width="1.2" />
<path d="M30.4,336.12 L33.0,336.12" fill="none" stroke="#5a5a5a" stroke-width="1.2" />
<path d="M30.4,369.20 L33.0,369.20" fill="none" stroke="#5a5a5a" stroke-width="1.2" />
<path d="M75.7,369.2 L75.7,372.2" fill="none" stroke="#5a5a5a" stroke-width="1.2" />
<path d="M166.7,369.2 L166.7,372.2" fill="none" stroke="#5a5a5a" stroke-width="1.2" />
<rect x="46.2" y="231.2" width="7.2" height="6.6" fill="#4d8b14" stroke="#444" stroke-width="0.4"/>
<rect x="46.2" y="243.0" width="7.2" height="6.6" fill="#8f1b52" stroke="#444" stroke-width="0.4"/>
<rect x="127.9" y="230.9" width="7.2" height="6.6" fill="#ff2b00" stroke="#444" stroke-width="0.4"/>
<rect x="127.9" y="243.0" width="7.2" height="6.6" fill="#0b1b8d" stroke="#444" stroke-width="0.4"/>
<path d="M242.3,234.10 L242.3,366.7 L419.60,366.7" fill="none" stroke="#2a2a2a" stroke-width="1.25" />
<path d="M306.59,255.32 L306.59,250.01 M304.99,250.01 L308.19,250.01" fill="none" stroke="#88ee88" stroke-width="0.9" />
<path d="M310.36,252.00 L310.36,246.70 M308.76,246.70 L311.96,246.70" fill="none" stroke="#88ee88" stroke-width="0.9" />
<path d="M242.55,366.70 L246.32,366.70 L250.09,366.70 L253.86,366.70 L257.62,366.70 L261.39,366.70 L265.16,366.70 L268.92,366.70 L272.69,366.70 L276.46,366.70 L280.22,366.70 L283.99,366.70 L287.76,360.07 L291.52,344.16 L295.29,321.62 L299.06,299.07 L302.83,277.86 L306.59,255.32 L310.36,252.00 L314.13,264.60 L317.89,288.47 L321.66,312.33 L325.43,334.88 L329.19,354.77 L332.96,365.37 L336.73,366.70 L340.49,366.70 L344.26,366.70 L348.03,366.70 L351.80,366.70 L355.56,366.70 L359.33,366.70 L363.10,366.70 L366.86,366.70 L370.63,366.70 L374.40,366.70 L378.16,366.70 L381.93,366.70 L385.70,366.70 L389.46,366.70 L393.23,366.70 L397.00,366.70 L400.77,366.70 L404.53,366.70 L408.30,366.70 L412.07,366.70 L415.83,366.70 L419.60,366.70" fill="none" stroke="#26e026" stroke-width="1.15" stroke-linejoin="round"/>
<g fill="#26e026"><circle cx="242.55" cy="366.70" r="1.8"/><circle cx="246.32" cy="366.70" r="1.8"/><circle cx="250.09" cy="366.70" r="1.8"/><circle cx="253.86" cy="366.70" r="1.8"/><circle cx="257.62" cy="366.70" r="1.8"/><circle cx="261.39" cy="366.70" r="1.8"/><circle cx="265.16" cy="366.70" r="1.8"/><circle cx="268.92" cy="366.70" r="1.8"/><circle cx="272.69" cy="366.70" r="1.8"/><circle cx="276.46" cy="366.70" r="1.8"/><circle cx="280.22" cy="366.70" r="1.8"/><circle cx="283.99" cy="366.70" r="1.8"/><circle cx="287.76" cy="360.07" r="1.8"/><circle cx="291.52" cy="344.16" r="1.8"/><circle cx="295.29" cy="321.62" r="1.8"/><circle cx="299.06" cy="299.07" r="1.8"/><circle cx="302.83" cy="277.86" r="1.8"/><circle cx="306.59" cy="255.32" r="1.8"/><circle cx="310.36" cy="252.00" r="1.8"/><circle cx="314.13" cy="264.60" r="1.8"/><circle cx="317.89" cy="288.47" r="1.8"/><circle cx="321.66" cy="312.33" r="1.8"/><circle cx="325.43" cy="334.88" r="1.8"/><circle cx="329.19" cy="354.77" r="1.8"/><circle cx="332.96" cy="365.37" r="1.8"/><circle cx="336.73" cy="366.70" r="1.8"/><circle cx="340.49" cy="366.70" r="1.8"/><circle cx="344.26" cy="366.70" r="1.8"/><circle cx="348.03" cy="366.70" r="1.8"/><circle cx="351.80" cy="366.70" r="1.8"/><circle cx="355.56" cy="366.70" r="1.8"/><circle cx="359.33" cy="366.70" r="1.8"/><circle cx="363.10" cy="366.70" r="1.8"/><circle cx="366.86" cy="366.70" r="1.8"/><circle cx="370.63" cy="366.70" r="1.8"/><circle cx="374.40" cy="366.70" r="1.8"/><circle cx="378.16" cy="366.70" r="1.8"/><circle cx="381.93" cy="366.70" r="1.8"/><circle cx="385.70" cy="366.70" r="1.8"/><circle cx="389.46" cy="366.70" r="1.8"/><circle cx="393.23" cy="366.70" r="1.8"/><circle cx="397.00" cy="366.70" r="1.8"/><circle cx="400.77" cy="366.70" r="1.8"/><circle cx="404.53" cy="366.70" r="1.8"/><circle cx="408.30" cy="366.70" r="1.8"/><circle cx="412.07" cy="366.70" r="1.8"/><circle cx="415.83" cy="366.70" r="1.8"/><circle cx="419.60" cy="366.70" r="1.8"/></g>
<path d="M242.55,366.70 L246.32,366.70 L250.09,366.70 L253.86,366.70 L257.62,366.70 L261.39,366.70 L265.16,366.70 L268.92,366.70 L272.69,366.70 L276.46,366.70 L280.22,366.70 L283.99,366.70 L287.76,360.07 L291.52,344.16 L295.29,322.94 L299.06,300.40 L302.83,279.18 L306.59,263.27 L310.36,259.96 L314.13,265.92 L317.89,289.79 L321.66,312.33 L325.43,334.88 L329.19,354.77 L332.96,365.37 L336.73,366.70 L340.49,366.70 L344.26,366.70 L348.03,366.70 L351.80,366.70 L355.56,366.70 L359.33,366.70 L363.10,366.70 L366.86,366.70 L370.63,366.70 L374.40,366.70 L378.16,366.70 L381.93,366.70 L385.70,366.70 L389.46,366.70 L393.23,366.70 L397.00,366.70 L400.77,366.70 L404.53,366.70 L408.30,366.70 L412.07,366.70 L415.83,366.70 L419.60,366.70" fill="none" stroke="#1a8a1a" stroke-width="1.15" stroke-linejoin="round"/>
<g fill="#1a8a1a"><circle cx="242.55" cy="366.70" r="1.6"/><circle cx="246.32" cy="366.70" r="1.6"/><circle cx="250.09" cy="366.70" r="1.6"/><circle cx="253.86" cy="366.70" r="1.6"/><circle cx="257.62" cy="366.70" r="1.6"/><circle cx="261.39" cy="366.70" r="1.6"/><circle cx="265.16" cy="366.70" r="1.6"/><circle cx="268.92" cy="366.70" r="1.6"/><circle cx="272.69" cy="366.70" r="1.6"/><circle cx="276.46" cy="366.70" r="1.6"/><circle cx="280.22" cy="366.70" r="1.6"/><circle cx="283.99" cy="366.70" r="1.6"/><circle cx="287.76" cy="360.07" r="1.6"/><circle cx="291.52" cy="344.16" r="1.6"/><circle cx="295.29" cy="322.94" r="1.6"/><circle cx="299.06" cy="300.40" r="1.6"/><circle cx="302.83" cy="279.18" r="1.6"/><circle cx="306.59" cy="263.27" r="1.6"/><circle cx="310.36" cy="259.96" r="1.6"/><circle cx="314.13" cy="265.92" r="1.6"/><circle cx="317.89" cy="289.79" r="1.6"/><circle cx="321.66" cy="312.33" r="1.6"/><circle cx="325.43" cy="334.88" r="1.6"/><circle cx="329.19" cy="354.77" r="1.6"/><circle cx="332.96" cy="365.37" r="1.6"/><circle cx="336.73" cy="366.70" r="1.6"/><circle cx="340.49" cy="366.70" r="1.6"/><circle cx="344.26" cy="366.70" r="1.6"/><circle cx="348.03" cy="366.70" r="1.6"/><circle cx="351.80" cy="366.70" r="1.6"/><circle cx="355.56" cy="366.70" r="1.6"/><circle cx="359.33" cy="366.70" r="1.6"/><circle cx="363.10" cy="366.70" r="1.6"/><circle cx="366.86" cy="366.70" r="1.6"/><circle cx="370.63" cy="366.70" r="1.6"/><circle cx="374.40" cy="366.70" r="1.6"/><circle cx="378.16" cy="366.70" r="1.6"/><circle cx="381.93" cy="366.70" r="1.6"/><circle cx="385.70" cy="366.70" r="1.6"/><circle cx="389.46" cy="366.70" r="1.6"/><circle cx="393.23" cy="366.70" r="1.6"/><circle cx="397.00" cy="366.70" r="1.6"/><circle cx="400.77" cy="366.70" r="1.6"/><circle cx="404.53" cy="366.70" r="1.6"/><circle cx="408.30" cy="366.70" r="1.6"/><circle cx="412.07" cy="366.70" r="1.6"/><circle cx="415.83" cy="366.70" r="1.6"/><circle cx="419.60" cy="366.70" r="1.6"/></g>
<path d="M242.55,366.70 L246.32,366.70 L250.09,366.70 L253.86,366.70 L257.62,366.70 L261.39,366.70 L265.16,366.70 L268.92,366.70 L272.69,366.70 L276.46,366.70 L280.22,366.70 L284.49,366.70 L288.26,362.72 L292.02,346.81 L295.79,325.59 L299.56,304.38 L303.33,283.16 L307.09,267.25 L310.86,263.27 L314.63,268.58 L318.39,288.47 L322.16,311.01 L325.93,333.55 L329.69,353.44 L333.46,364.71 L337.23,366.70 L340.49,366.70 L344.26,366.70 L348.03,366.70 L351.80,366.70 L355.56,366.70 L359.33,366.70 L363.10,366.70 L366.86,366.70 L370.63,366.70 L374.40,366.70 L378.16,366.70 L381.93,366.70 L385.70,366.70 L389.46,366.70 L393.23,366.70 L397.00,366.70 L400.77,366.70 L404.53,366.70 L408.30,366.70 L412.07,366.70 L415.83,366.70 L419.60,366.70" fill="none" stroke="#8b1a1a" stroke-width="1.0" stroke-linejoin="round"/>
<g fill="#8b1a1a"><circle cx="242.55" cy="366.70" r="1.15"/><circle cx="246.32" cy="366.70" r="1.15"/><circle cx="250.09" cy="366.70" r="1.15"/><circle cx="253.86" cy="366.70" r="1.15"/><circle cx="257.62" cy="366.70" r="1.15"/><circle cx="261.39" cy="366.70" r="1.15"/><circle cx="265.16" cy="366.70" r="1.15"/><circle cx="268.92" cy="366.70" r="1.15"/><circle cx="272.69" cy="366.70" r="1.15"/><circle cx="276.46" cy="366.70" r="1.15"/><circle cx="280.22" cy="366.70" r="1.15"/><circle cx="284.49" cy="366.70" r="1.15"/><circle cx="288.26" cy="362.72" r="1.15"/><circle cx="292.02" cy="346.81" r="1.15"/><circle cx="295.79" cy="325.59" r="1.15"/><circle cx="299.56" cy="304.38" r="1.15"/><circle cx="303.33" cy="283.16" r="1.15"/><circle cx="307.09" cy="267.25" r="1.15"/><circle cx="310.86" cy="263.27" r="1.15"/><circle cx="314.63" cy="268.58" r="1.15"/><circle cx="318.39" cy="288.47" r="1.15"/><circle cx="322.16" cy="311.01" r="1.15"/><circle cx="325.93" cy="333.55" r="1.15"/><circle cx="329.69" cy="353.44" r="1.15"/><circle cx="333.46" cy="364.71" r="1.15"/><circle cx="337.23" cy="366.70" r="1.15"/><circle cx="340.49" cy="366.70" r="1.15"/><circle cx="344.26" cy="366.70" r="1.15"/><circle cx="348.03" cy="366.70" r="1.15"/><circle cx="351.80" cy="366.70" r="1.15"/><circle cx="355.56" cy="366.70" r="1.15"/><circle cx="359.33" cy="366.70" r="1.15"/><circle cx="363.10" cy="366.70" r="1.15"/><circle cx="366.86" cy="366.70" r="1.15"/><circle cx="370.63" cy="366.70" r="1.15"/><circle cx="374.40" cy="366.70" r="1.15"/><circle cx="378.16" cy="366.70" r="1.15"/><circle cx="381.93" cy="366.70" r="1.15"/><circle cx="385.70" cy="366.70" r="1.15"/><circle cx="389.46" cy="366.70" r="1.15"/><circle cx="393.23" cy="366.70" r="1.15"/><circle cx="397.00" cy="366.70" r="1.15"/><circle cx="400.77" cy="366.70" r="1.15"/><circle cx="404.53" cy="366.70" r="1.15"/><circle cx="408.30" cy="366.70" r="1.15"/><circle cx="412.07" cy="366.70" r="1.15"/><circle cx="415.83" cy="366.70" r="1.15"/><circle cx="419.60" cy="366.70" r="1.15"/></g>
<path d="M292.12,346.81 L292.12,340.18 M290.52,340.18 L293.72,340.18" fill="none" stroke="#ff9a8a" stroke-width="0.9" />
<path d="M295.89,325.59 L295.89,315.65 M294.29,315.65 L297.49,315.65" fill="none" stroke="#ff9a8a" stroke-width="0.9" />
<path d="M299.66,304.38 L299.66,295.10 M298.06,295.10 L301.26,295.10" fill="none" stroke="#ff9a8a" stroke-width="0.9" />
<path d="M303.43,283.16 L303.43,272.55 M301.83,272.55 L305.03,272.55" fill="none" stroke="#ff9a8a" stroke-width="0.9" />
<path d="M307.19,267.25 L307.19,257.31 M305.59,257.31 L308.79,257.31" fill="none" stroke="#ff9a8a" stroke-width="0.9" />
<path d="M310.96,263.27 L310.96,253.33 M309.36,253.33 L312.56,253.33" fill="none" stroke="#ff9a8a" stroke-width="0.9" />
<path d="M314.73,268.58 L314.73,256.64 M313.13,256.64 L316.33,256.64" fill="none" stroke="#ff9a8a" stroke-width="0.9" />
<path d="M318.49,288.47 L318.49,280.51 M316.89,280.51 L320.09,280.51" fill="none" stroke="#ff9a8a" stroke-width="0.9" />
<path d="M322.26,311.01 L322.26,302.39 M320.66,302.39 L323.86,302.39" fill="none" stroke="#ff9a8a" stroke-width="0.9" />
<path d="M326.03,333.55 L326.03,326.92 M324.43,326.92 L327.63,326.92" fill="none" stroke="#ff9a8a" stroke-width="0.9" />
<path d="M242.55,366.70 L246.32,366.70 L250.09,366.70 L253.86,366.70 L257.62,366.70 L261.39,366.70 L265.16,366.70 L268.92,366.70 L272.69,366.70 L276.46,366.70 L280.22,366.70 L284.59,366.70 L288.36,362.72 L292.12,346.81 L295.89,325.59 L299.66,304.38 L303.43,283.16 L307.19,267.25 L310.96,263.27 L314.73,268.58 L318.49,288.47 L322.26,311.01 L326.03,333.55 L329.79,352.11 L333.56,364.05 L337.33,366.70 L340.49,366.70 L344.26,366.70 L348.03,366.70 L351.80,366.70 L355.56,366.70 L359.33,366.70 L363.10,366.70 L366.86,366.70 L370.63,366.70 L374.40,366.70 L378.16,366.70 L381.93,366.70 L385.70,366.70 L389.46,366.70 L393.23,366.70 L397.00,366.70 L400.77,366.70 L404.53,366.70 L408.30,366.70 L412.07,366.70 L415.83,366.70 L419.60,366.70" fill="none" stroke="#ff2a20" stroke-width="1.0" stroke-linejoin="round"/>
<g fill="#ff2a20"><circle cx="242.55" cy="366.70" r="1.15"/><circle cx="246.32" cy="366.70" r="1.15"/><circle cx="250.09" cy="366.70" r="1.15"/><circle cx="253.86" cy="366.70" r="1.15"/><circle cx="257.62" cy="366.70" r="1.15"/><circle cx="261.39" cy="366.70" r="1.15"/><circle cx="265.16" cy="366.70" r="1.15"/><circle cx="268.92" cy="366.70" r="1.15"/><circle cx="272.69" cy="366.70" r="1.15"/><circle cx="276.46" cy="366.70" r="1.15"/><circle cx="280.22" cy="366.70" r="1.15"/><circle cx="284.59" cy="366.70" r="1.15"/><circle cx="288.36" cy="362.72" r="1.15"/><circle cx="292.12" cy="346.81" r="1.15"/><circle cx="295.89" cy="325.59" r="1.15"/><circle cx="299.66" cy="304.38" r="1.15"/><circle cx="303.43" cy="283.16" r="1.15"/><circle cx="307.19" cy="267.25" r="1.15"/><circle cx="310.96" cy="263.27" r="1.15"/><circle cx="314.73" cy="268.58" r="1.15"/><circle cx="318.49" cy="288.47" r="1.15"/><circle cx="322.26" cy="311.01" r="1.15"/><circle cx="326.03" cy="333.55" r="1.15"/><circle cx="329.79" cy="352.11" r="1.15"/><circle cx="333.56" cy="364.05" r="1.15"/><circle cx="337.33" cy="366.70" r="1.15"/><circle cx="340.49" cy="366.70" r="1.15"/><circle cx="344.26" cy="366.70" r="1.15"/><circle cx="348.03" cy="366.70" r="1.15"/><circle cx="351.80" cy="366.70" r="1.15"/><circle cx="355.56" cy="366.70" r="1.15"/><circle cx="359.33" cy="366.70" r="1.15"/><circle cx="363.10" cy="366.70" r="1.15"/><circle cx="366.86" cy="366.70" r="1.15"/><circle cx="370.63" cy="366.70" r="1.15"/><circle cx="374.40" cy="366.70" r="1.15"/><circle cx="378.16" cy="366.70" r="1.15"/><circle cx="381.93" cy="366.70" r="1.15"/><circle cx="385.70" cy="366.70" r="1.15"/><circle cx="389.46" cy="366.70" r="1.15"/><circle cx="393.23" cy="366.70" r="1.15"/><circle cx="397.00" cy="366.70" r="1.15"/><circle cx="400.77" cy="366.70" r="1.15"/><circle cx="404.53" cy="366.70" r="1.15"/><circle cx="408.30" cy="366.70" r="1.15"/><circle cx="412.07" cy="366.70" r="1.15"/><circle cx="415.83" cy="366.70" r="1.15"/><circle cx="419.60" cy="366.70" r="1.15"/></g>

<g fill="#1a8a1a"><circle cx="242.55" cy="366.70" r="1.6"/><circle cx="246.32" cy="366.70" r="1.6"/><circle cx="250.09" cy="366.70" r="1.6"/><circle cx="253.86" cy="366.70" r="1.6"/><circle cx="257.62" cy="366.70" r="1.6"/><circle cx="261.39" cy="366.70" r="1.6"/><circle cx="265.16" cy="366.70" r="1.6"/><circle cx="268.92" cy="366.70" r="1.6"/><circle cx="272.69" cy="366.70" r="1.6"/><circle cx="276.46" cy="366.70" r="1.6"/><circle cx="280.22" cy="366.70" r="1.6"/><circle cx="340.49" cy="366.70" r="1.6"/><circle cx="344.26" cy="366.70" r="1.6"/><circle cx="348.03" cy="366.70" r="1.6"/><circle cx="351.80" cy="366.70" r="1.6"/><circle cx="355.56" cy="366.70" r="1.6"/><circle cx="359.33" cy="366.70" r="1.6"/><circle cx="363.10" cy="366.70" r="1.6"/><circle cx="366.86" cy="366.70" r="1.6"/><circle cx="370.63" cy="366.70" r="1.6"/><circle cx="374.40" cy="366.70" r="1.6"/><circle cx="378.16" cy="366.70" r="1.6"/><circle cx="381.93" cy="366.70" r="1.6"/><circle cx="385.70" cy="366.70" r="1.6"/><circle cx="389.46" cy="366.70" r="1.6"/><circle cx="393.23" cy="366.70" r="1.6"/><circle cx="397.00" cy="366.70" r="1.6"/><circle cx="400.77" cy="366.70" r="1.6"/><circle cx="404.53" cy="366.70" r="1.6"/><circle cx="408.30" cy="366.70" r="1.6"/><circle cx="412.07" cy="366.70" r="1.6"/><circle cx="415.83" cy="366.70" r="1.6"/><circle cx="419.60" cy="366.70" r="1.6"/></g>
<path d="M239.70000000000002,366.70 L242.3,366.70" fill="none" stroke="#2a2a2a" stroke-width="1.2" />
<path d="M239.70000000000002,333.55 L242.3,333.55" fill="none" stroke="#2a2a2a" stroke-width="1.2" />
<path d="M239.70000000000002,300.40 L242.3,300.40" fill="none" stroke="#2a2a2a" stroke-width="1.2" />
<path d="M239.70000000000002,267.25 L242.3,267.25" fill="none" stroke="#2a2a2a" stroke-width="1.2" />
<path d="M239.70000000000002,234.10 L242.3,234.10" fill="none" stroke="#2a2a2a" stroke-width="1.2" />
<path d="M242.30,366.7 L242.30,369.9" fill="none" stroke="#2a2a2a" stroke-width="1.2" />
<path d="M301.40,366.7 L301.40,369.9" fill="none" stroke="#2a2a2a" stroke-width="1.2" />
<path d="M360.50,366.7 L360.50,369.9" fill="none" stroke="#2a2a2a" stroke-width="1.2" />
<path d="M419.60,366.7 L419.60,369.9" fill="none" stroke="#2a2a2a" stroke-width="1.2" />
<path d="M339.4,314.4 L346.6,314.4" fill="none" stroke="#26e026" stroke-width="1.2" />
<circle cx="343" cy="314.4" r="1.4" fill="#26e026"/>
<path d="M339.4,326.6 L346.6,326.6" fill="none" stroke="#1a8a1a" stroke-width="1.2" />
<circle cx="343" cy="326.6" r="1.4" fill="#1a8a1a"/>
<path d="M339.4,338.6 L346.6,338.6" fill="none" stroke="#8b1a1a" stroke-width="1.2" />
<circle cx="343" cy="338.6" r="1.4" fill="#8b1a1a"/>
<path d="M339.4,350.1 L346.6,350.1" fill="none" stroke="#ff2a20" stroke-width="1.2" />
<circle cx="343" cy="350.1" r="1.4" fill="#ff2a20"/>
<path d="M486.90,285.29 L516.80,342.05 L546.60,354.26 L576.30,359.54 L606.20,361.52 L636.00,362.18" fill="none" stroke="#ff2a1a" stroke-width="0.95" />
<rect x="485.19" y="283.58" width="3.42" height="3.42" fill="#ff2a1a"/>
<rect x="515.09" y="340.34" width="3.42" height="3.42" fill="#ff2a1a"/>
<rect x="544.89" y="352.55" width="3.42" height="3.42" fill="#ff2a1a"/>
<rect x="574.59" y="357.83" width="3.42" height="3.42" fill="#ff2a1a"/>
<rect x="604.49" y="359.81" width="3.42" height="3.42" fill="#ff2a1a"/>
<rect x="634.29" y="360.47" width="3.42" height="3.42" fill="#ff2a1a"/>
<path d="M486.90,256.91 L516.80,331.99 L546.60,350.63 L576.30,357.89 L606.20,360.40 L636.00,361.85" fill="none" stroke="#1f2f9f" stroke-width="0.95" />
<path d="M486.9,256.91 L486.9,251.96 M484.9,251.96 L488.9,251.96" fill="none" stroke="#1f2f9f" stroke-width="0.8" opacity="0.7"/>
<circle cx="486.90" cy="256.91" r="1.61" fill="#1f2f9f"/>
<path d="M516.8,331.99 L516.8,328.02 M514.8,328.02 L518.8,328.02" fill="none" stroke="#1f2f9f" stroke-width="0.8" opacity="0.7"/>
<circle cx="516.80" cy="331.99" r="1.61" fill="#1f2f9f"/>
<circle cx="546.60" cy="350.63" r="1.61" fill="#1f2f9f"/>
<circle cx="576.30" cy="357.89" r="1.61" fill="#1f2f9f"/>
<circle cx="606.20" cy="360.40" r="1.61" fill="#1f2f9f"/>
<circle cx="636.00" cy="361.85" r="1.61" fill="#1f2f9f"/>
<path d="M486.90,266.81 L516.80,319.28 L546.60,347.33 L576.30,355.91 L606.20,359.21 L636.00,361.19" fill="none" stroke="#1e8c28" stroke-width="0.95" />
<path d="M486.9,266.81 L486.9,260.21 M484.9,260.21 L488.9,260.21" fill="none" stroke="#1e8c28" stroke-width="0.8" opacity="0.7"/>
<path d="M486.90,264.72 L488.80,268.14 L485.00,268.14 Z" fill="#1e8c28"/>
<path d="M516.80,317.19 L518.70,320.61 L514.90,320.61 Z" fill="#1e8c28"/>
<path d="M546.60,345.24 L548.50,348.66 L544.70,348.66 Z" fill="#1e8c28"/>
<path d="M576.30,353.82 L578.20,357.24 L574.40,357.24 Z" fill="#1e8c28"/>
<path d="M606.20,357.12 L608.10,360.54 L604.30,360.54 Z" fill="#1e8c28"/>
<path d="M636.00,359.10 L637.90,362.52 L634.10,362.52 Z" fill="#1e8c28"/>
<path d="M486.90,247.01 L516.80,320.93 L546.60,347.66 L576.30,356.24 L606.20,359.54 L636.00,361.52" fill="none" stroke="#8c1c58" stroke-width="0.95" />
<path d="M486.90,249.10 L488.80,245.68 L485.00,245.68 Z" fill="#8c1c58"/>
<path d="M516.80,323.02 L518.70,319.60 L514.90,319.60 Z" fill="#8c1c58"/>
<path d="M546.60,349.75 L548.50,346.33 L544.70,346.33 Z" fill="#8c1c58"/>
<path d="M576.30,358.33 L578.20,354.91 L574.40,354.91 Z" fill="#8c1c58"/>
<path d="M606.20,361.63 L608.10,358.21 L604.30,358.21 Z" fill="#8c1c58"/>
<path d="M636.00,363.61 L637.90,360.19 L634.10,360.19 Z" fill="#8c1c58"/>
<path d="M472.5,231.50 L472.5,363.5 L650.7,363.5" fill="none" stroke="#2a2a2a" stroke-width="1.25" />
<path d="M469.7,231.50 L472.5,231.50" fill="none" stroke="#2a2a2a" stroke-width="1.2" />
<path d="M469.7,264.50 L472.5,264.50" fill="none" stroke="#2a2a2a" stroke-width="1.2" />
<path d="M469.7,297.50 L472.5,297.50" fill="none" stroke="#2a2a2a" stroke-width="1.2" />
<path d="M469.7,330.50 L472.5,330.50" fill="none" stroke="#2a2a2a" stroke-width="1.2" />
<path d="M469.7,363.50 L472.5,363.50" fill="none" stroke="#2a2a2a" stroke-width="1.2" />
<path d="M486.9,363.5 L486.9,366.8" fill="none" stroke="#2a2a2a" stroke-width="1.2" />
<path d="M516.8,363.5 L516.8,366.8" fill="none" stroke="#2a2a2a" stroke-width="1.2" />
<path d="M546.6,363.5 L546.6,366.8" fill="none" stroke="#2a2a2a" stroke-width="1.2" />
<path d="M576.3,363.5 L576.3,366.8" fill="none" stroke="#2a2a2a" stroke-width="1.2" />
<path d="M606.2,363.5 L606.2,366.8" fill="none" stroke="#2a2a2a" stroke-width="1.2" />
<path d="M636.0,363.5 L636.0,366.8" fill="none" stroke="#2a2a2a" stroke-width="1.2" />
<path d="M560,273.7 L567.3,273.7" fill="none" stroke="#1e8c28" stroke-width="1.2" />
<circle cx="563.6" cy="273.7" r="1.5" fill="#1e8c28"/>
<path d="M560,285.9 L567.3,285.9" fill="none" stroke="#8c1c58" stroke-width="1.2" />
<circle cx="563.6" cy="285.9" r="1.5" fill="#8c1c58"/>
<path d="M560,298.1 L567.3,298.1" fill="none" stroke="#ff2a1a" stroke-width="1.2" />
<circle cx="563.6" cy="298.1" r="1.5" fill="#ff2a1a"/>
<path d="M560,310.3 L567.3,310.3" fill="none" stroke="#1f2f9f" stroke-width="1.2" />
<circle cx="563.6" cy="310.3" r="1.5" fill="#1f2f9f"/>
<path d="M715.30,264.20 L715.30,263.69 M709.80,263.69 L720.80,263.69" fill="none" stroke="#333" stroke-width="1.0" />
<rect x="698.8" y="264.20" width="33.00" height="96.90" fill="#0b7f0b" stroke="#3a3a3a" stroke-width="0.6"/>
<path d="M765.30,263.44 L765.30,260.38 M759.80,260.38 L770.80,260.38" fill="none" stroke="#333" stroke-width="1.0" />
<rect x="748.8" y="263.44" width="33.00" height="97.66" fill="#ff2b00" stroke="#3a3a3a" stroke-width="0.6"/>
<path d="M681.8,233.0 L681.8,361.1 L799,361.1" fill="none" stroke="#4a4a4a" stroke-width="1.25" />
<path d="M679.1999999999999,233.60 L681.8,233.60" fill="none" stroke="#4a4a4a" stroke-width="1.2" />
<path d="M679.1999999999999,259.10 L681.8,259.10" fill="none" stroke="#4a4a4a" stroke-width="1.2" />
<path d="M679.1999999999999,284.60 L681.8,284.60" fill="none" stroke="#4a4a4a" stroke-width="1.2" />
<path d="M679.1999999999999,310.10 L681.8,310.10" fill="none" stroke="#4a4a4a" stroke-width="1.2" />
<path d="M679.1999999999999,335.60 L681.8,335.60" fill="none" stroke="#4a4a4a" stroke-width="1.2" />
<path d="M679.1999999999999,361.10 L681.8,361.10" fill="none" stroke="#4a4a4a" stroke-width="1.2" />
<path d="M715.5,361.1 L715.5,364.5" fill="none" stroke="#4a4a4a" stroke-width="1.1" />
<path d="M765.1,361.1 L765.1,364.5" fill="none" stroke="#4a4a4a" stroke-width="1.1" />
<path d="M712.7,252.2 L712.7,244.4 L762.2,244.4 L762.2,252.2" fill="none" stroke="#333" stroke-width="1.0" />
<text transform="translate(716.3,371.6) rotate(-45)" font-size="7.85" text-anchor="end" fill="#1c1c1c" class="t">CXB NE (NE 1)</text>
<text transform="translate(766.1,371.4) rotate(-45)" font-size="7.85" text-anchor="end" fill="#1c1c1c" class="t">CXB FA NE (NE 3)</text>
<text x="90.94" y="101.12" font-size="10.80" fill="#151515" class="" stroke="#151515" stroke-width="0.3">PFC</text>
<text x="136.50" y="20.98" font-size="12.09" fill="#1a1a1a" class="" stroke="#1a1a1a" stroke-width="0.28">Surfactant</text>
<text x="166.09" y="51.12" font-size="12.14" fill="#1a1a1a" class="" stroke="#1a1a1a" stroke-width="0.28">Celecoxib</text>
<text x="181.38" y="86.55" font-size="11.49" fill="#1a1a1a" class="" stroke="#1a1a1a" stroke-width="0.28">NIRF dye</text>
<text x="188.82" y="118.68" font-size="12.23" fill="#1a1a1a" class="" stroke="#1a1a1a" stroke-width="0.28">Folate</text>
<text x="179.81" y="133.14" font-size="12.16" fill="#1a1a1a" class="" stroke="#1a1a1a" stroke-width="0.28">conjugate</text>
<text x="151.72" y="163.57" font-size="12.22" fill="#1a1a1a" class="" stroke="#1a1a1a" stroke-width="0.28">Hydrocarbon oil</text>
<text transform="translate(319.07,167.40) scale(0.893,1)" font-size="9.86" fill="#1c1c1c" class="t" >0</text>
<text transform="translate(319.16,134.75) scale(0.893,1)" font-size="9.86" fill="#1c1c1c" class="t" >5</text>
<text transform="translate(314.23,102.10) scale(0.893,1)" font-size="9.86" fill="#1c1c1c" class="t" >10</text>
<text transform="translate(314.23,69.45) scale(0.893,1)" font-size="9.86" fill="#1c1c1c" class="t" >15</text>
<text transform="translate(314.23,36.80) scale(0.893,1)" font-size="9.86" fill="#1c1c1c" class="t" >20</text>
<text transform="translate(322.87,176.40) scale(0.893,1)" font-size="9.41" fill="#1c1c1c" class="t" >10</text>
<text transform="translate(380.85,176.40) scale(0.893,1)" font-size="9.41" fill="#1c1c1c" class="t" >100</text>
<text transform="translate(438.87,176.40) scale(0.893,1)" font-size="9.41" fill="#1c1c1c" class="t" >1000</text>
<text transform="translate(496.85,176.40) scale(0.893,1)" font-size="9.41" fill="#1c1c1c" class="t" >10000</text>
<text transform="translate(397.49,188.34) scale(0.893,1)" font-size="9.16" fill="#1c1c1c" class="t" >Size (d.nm)</text>
<text transform="translate(310.19,111.30) rotate(-90)" font-size="8.93" fill="#1c1c1c" class="t" >Intensity (%)</text>
<text transform="translate(440.23,115.90) scale(0.857,1)" font-size="8.62" fill="#1c1c1c" class="t" >CXB NE (NE 1)</text>
<text transform="translate(440.01,127.40) scale(0.857,1)" font-size="8.62" fill="#1c1c1c" class="t" >DF NE (NE 2)</text>
<text transform="translate(440.23,140.20) scale(0.857,1)" font-size="8.62" fill="#1c1c1c" class="t" >CXB FA NE (NE 3)</text>
<text transform="translate(440.01,151.70) scale(0.857,1)" font-size="8.62" fill="#1c1c1c" class="t" >DF FA NE (NE 4)</text>
<text transform="translate(554.86,30.60) scale(0.893,1)" font-size="10.30" fill="#1c1c1c" class="t" >10</text>
<text transform="translate(560.01,64.85) scale(0.893,1)" font-size="10.30" fill="#1c1c1c" class="t" >5</text>
<text transform="translate(559.92,99.10) scale(0.893,1)" font-size="10.30" fill="#1c1c1c" class="t" >0</text>
<text transform="translate(556.88,133.35) scale(0.893,1)" font-size="10.30" fill="#1c1c1c" class="t" >-5</text>
<text transform="translate(551.73,167.60) scale(0.893,1)" font-size="10.30" fill="#1c1c1c" class="t" >-10</text>
<text transform="translate(596.02,92.20) scale(0.893,1)" font-size="10.30" fill="#1c1c1c" class="t" >0</text>
<text transform="translate(655.52,92.20) scale(0.893,1)" font-size="10.30" fill="#1c1c1c" class="t" >7</text>
<text transform="translate(711.85,92.20) scale(0.893,1)" font-size="10.30" fill="#1c1c1c" class="t" >28</text>
<text transform="translate(767.53,92.20) scale(0.893,1)" font-size="10.30" fill="#1c1c1c" class="t" >150</text>
<text transform="translate(662.67,140.16) scale(0.893,1)" font-size="10.21" fill="#1c1c1c" class="t" >Days</text>
<text transform="translate(553.93,134.78) rotate(-90)" font-size="9.26" fill="#1c1c1c" class="t" >Zeta Potential (mV)</text>
<text transform="translate(699.08,37.60) scale(0.911,1)" font-size="9.13" fill="#1c1c1c" class="t" >CXB NE (NE 1)</text>
<text transform="translate(698.83,49.90) scale(0.911,1)" font-size="9.13" fill="#1c1c1c" class="t" >DF NE (NE 2)</text>
<text transform="translate(699.08,62.70) scale(0.911,1)" font-size="9.13" fill="#1c1c1c" class="t" >CXB FA NE (NE 3)</text>
<text transform="translate(698.83,75.30) scale(0.911,1)" font-size="9.13" fill="#1c1c1c" class="t" >DF FA NE (NE 4)</text>
<text transform="translate(14.16,240.30) scale(0.893,1)" font-size="9.86" fill="#1c1c1c" class="t" >200</text>
<text transform="translate(14.16,273.38) scale(0.893,1)" font-size="9.86" fill="#1c1c1c" class="t" >150</text>
<text transform="translate(14.16,306.45) scale(0.893,1)" font-size="9.86" fill="#1c1c1c" class="t" >100</text>
<text transform="translate(19.08,339.52) scale(0.893,1)" font-size="9.86" fill="#1c1c1c" class="t" >50</text>
<text transform="translate(23.92,372.60) scale(0.893,1)" font-size="9.86" fill="#1c1c1c" class="t" >0</text>
<text transform="translate(68.34,382.08) scale(0.893,1)" font-size="10.19" fill="#1c1c1c" class="t" >0 H</text>
<text transform="translate(157.85,382.17) scale(0.893,1)" font-size="10.01" fill="#1c1c1c" class="t" >72 H</text>
<text transform="translate(81.39,395.88) scale(0.893,1)" font-size="10.07" fill="#1c1c1c" class="t" >Incubation with FBS</text>
<text transform="translate(8.62,345.35) rotate(-90)" font-size="9.38" fill="#1c1c1c" class="t" >Droplet diameter (nm)</text>
<text transform="translate(57.80,236.50) scale(0.893,1)" font-size="9.02" fill="#1c1c1c" class="t" style="white-space:pre">CXB NE (NE 1)</text>
<text transform="translate(57.56,248.90) scale(0.893,1)" font-size="8.94" fill="#1c1c1c" class="t" style="white-space:pre">DF NE  (NE 2)</text>
<text transform="translate(138.90,236.50) scale(0.893,1)" font-size="9.05" fill="#1c1c1c" class="t" style="white-space:pre">CXB FA NE  (NE 3)</text>
<text transform="translate(138.64,248.90) scale(0.893,1)" font-size="9.18" fill="#1c1c1c" class="t" style="white-space:pre">DF FA NE (NE 4)</text>
<text transform="translate(233.68,369.50) scale(0.893,1)" font-size="9.30" fill="#1c1c1c" class="t" >0</text>
<text transform="translate(233.77,336.35) scale(0.893,1)" font-size="9.30" fill="#1c1c1c" class="t" >5</text>
<text transform="translate(229.12,303.20) scale(0.893,1)" font-size="9.30" fill="#1c1c1c" class="t" >10</text>
<text transform="translate(229.12,270.05) scale(0.893,1)" font-size="9.30" fill="#1c1c1c" class="t" >15</text>
<text transform="translate(229.12,236.90) scale(0.893,1)" font-size="9.30" fill="#1c1c1c" class="t" >20</text>
<text transform="translate(238.33,377.60) scale(0.893,1)" font-size="9.30" fill="#1c1c1c" class="t" >10</text>
<text transform="translate(295.10,377.60) scale(0.893,1)" font-size="9.30" fill="#1c1c1c" class="t" >100</text>
<text transform="translate(351.92,377.60) scale(0.893,1)" font-size="9.30" fill="#1c1c1c" class="t" >1000</text>
<text transform="translate(408.70,377.60) scale(0.893,1)" font-size="9.30" fill="#1c1c1c" class="t" >10000</text>
<text transform="translate(310.38,390.27) scale(0.893,1)" font-size="9.36" fill="#1c1c1c" class="t" >Size (d.nm)</text>
<text transform="translate(225.13,312.51) rotate(-90)" font-size="8.98" fill="#1c1c1c" class="t" >Intensity (%)</text>
<text transform="translate(349.54,316.95) scale(0.879,1)" font-size="8.29" fill="#1c1c1c" class="t" >CXB NE (NE 1)</text>
<text transform="translate(349.54,329.15) scale(0.879,1)" font-size="8.29" fill="#1c1c1c" class="t" >CXB NE (3000 rpm)</text>
<text transform="translate(349.54,341.15) scale(0.879,1)" font-size="8.29" fill="#1c1c1c" class="t" >CXB FA NE (NE 3)</text>
<text transform="translate(349.54,352.65) scale(0.879,1)" font-size="8.29" fill="#1c1c1c" class="t" >CXB FA NE (3000 rpm)</text>
<text class="t" transform="translate(446.9,236.00) scale(0.89,1)" font-size="9.0" fill="#1c1c1c">4×10<tspan dy="-4.3" font-size="6.2">6</tspan></text>
<text class="t" transform="translate(446.9,269.00) scale(0.89,1)" font-size="9.0" fill="#1c1c1c">3×10<tspan dy="-4.3" font-size="6.2">6</tspan></text>
<text class="t" transform="translate(446.9,302.00) scale(0.89,1)" font-size="9.0" fill="#1c1c1c">2×10<tspan dy="-4.3" font-size="6.2">6</tspan></text>
<text class="t" transform="translate(446.9,335.00) scale(0.89,1)" font-size="9.0" fill="#1c1c1c">1×10<tspan dy="-4.3" font-size="6.2">6</tspan></text>
<text transform="translate(463.38,366.20) scale(0.893,1)" font-size="9.30" fill="#1c1c1c" class="t" >0</text>
<text transform="translate(484.97,375.90) scale(0.893,1)" font-size="9.07" fill="#1c1c1c" class="t" >5</text>
<text transform="translate(511.43,375.90) scale(0.893,1)" font-size="9.07" fill="#1c1c1c" class="t" >2.5</text>
<text transform="translate(538.88,375.90) scale(0.893,1)" font-size="9.07" fill="#1c1c1c" class="t" >1.25</text>
<text transform="translate(566.47,375.90) scale(0.893,1)" font-size="9.07" fill="#1c1c1c" class="t" >0.625</text>
<text transform="translate(598.64,375.90) scale(0.893,1)" font-size="9.07" fill="#1c1c1c" class="t" >0.31</text>
<text transform="translate(626.17,375.90) scale(0.893,1)" font-size="9.07" fill="#1c1c1c" class="t" >0.156</text>
<text transform="translate(519.55,388.58) scale(0.893,1)" font-size="9.06" fill="#1c1c1c" class="t" >DiR Concentration [µM]</text>
<text transform="translate(442.90,347.32) rotate(-90)" font-size="8.95" fill="#1c1c1c" class="t" >Fluorescence signal (RFU)</text>
<text transform="translate(570.64,275.90) scale(0.875,1)" font-size="8.29" fill="#1c1c1c" class="t" >CXB NE (NE 1)</text>
<text transform="translate(570.42,288.10) scale(0.875,1)" font-size="8.29" fill="#1c1c1c" class="t" >DF NE (NE 2)</text>
<text transform="translate(570.64,300.30) scale(0.875,1)" font-size="8.29" fill="#1c1c1c" class="t" >CXB FA NE (NE 3)</text>
<text transform="translate(570.42,312.50) scale(0.875,1)" font-size="8.29" fill="#1c1c1c" class="t" >DF FA NE (NE 4)</text>
<text transform="translate(663.57,236.50) scale(0.893,1)" font-size="9.30" fill="#1c1c1c" class="t" >100</text>
<text transform="translate(668.22,262.00) scale(0.893,1)" font-size="9.30" fill="#1c1c1c" class="t" >80</text>
<text transform="translate(668.22,287.50) scale(0.893,1)" font-size="9.30" fill="#1c1c1c" class="t" >60</text>
<text transform="translate(668.22,313.00) scale(0.893,1)" font-size="9.30" fill="#1c1c1c" class="t" >40</text>
<text transform="translate(668.22,338.50) scale(0.893,1)" font-size="9.30" fill="#1c1c1c" class="t" >20</text>
<text transform="translate(672.78,364.00) scale(0.893,1)" font-size="9.30" fill="#1c1c1c" class="t" >0</text>
<text transform="translate(733.18,241.40) scale(0.893,1)" font-size="8.06" fill="#1c1c1c" class="t" >ns</text>
<text transform="translate(660.12,323.44) rotate(-90)" font-size="8.56" fill="#1c1c1c" class="t" >% CXB loading</text>
<text x="8.70" y="14.63" font-size="18.94" fill="#000" class="" >A</text>
<text x="285.28" y="17.13" font-size="20.19" fill="#000" class="" >B</text>
<text x="516.22" y="15.91" font-size="19.68" fill="#000" class="" >C</text>
<text x="-0.16" y="218.63" font-size="19.49" fill="#000" class="" >D</text>
<text x="208.05" y="219.52" font-size="21.85" fill="#000" class="" >E</text>
<text x="423.23" y="223.33" font-size="19.59" fill="#000" class="" >F</text>
<text x="632.38" y="223.13" font-size="20.31" fill="#000" class="" >G</text>
</svg></body></html>
